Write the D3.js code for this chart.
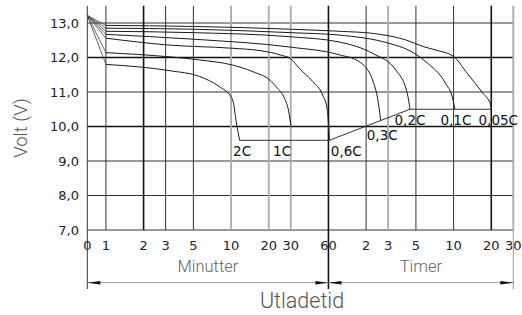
<!DOCTYPE html>
<html>
<head>
<meta charset="utf-8">
<script src="https://cdn.jsdelivr.net/npm/d3@7"></script>
<style>
  body { margin: 0; background: #fff; }
  svg { display: block; }
</style>
</head>
<body>
<svg width="522" height="315"></svg>
<script>
// time is in minutes, 0 = start of discharge
var minuteTicks = [0, 1, 2, 3, 5, 10, 20, 30, 60];
var hourTicks = [2, 3, 5, 10, 20, 30];
var voltTicks = [7, 8, 9, 10, 11, 12, 13];

var names = ["2C", "1C", "0,6C", "0,3C", "0,2C", "0,1C", "0,05C"];

// [minutes, volt]
var c2 = [[0, 13.22], [1, 11.80], [3.2, 11.62], [5.6, 11.45], [8.1, 11.15], [10, 10.86], [10.4, 10.72], [11, 10.14], [11.7, 9.6]];
var c1 = [[0, 13.22], [1, 12.14], [3.2, 12.02], [5.6, 11.93], [10.3, 11.78], [14.9, 11.59], [20.3, 11.35], [23.6, 11.1], [26.7, 10.82], [28.9, 10.43], [30.2, 9.97]];
var c06 = [[0, 13.22], [1, 12.56], [3.2, 12.36], [10, 12.27], [17, 12.2], [25, 12.07], [30, 11.96], [35, 11.69], [45, 11.30], [54, 10.91], [58.4, 10.53], [60, 10.14], [61, 9.6]];
var c03 = [[0, 13.22], [1, 12.67], [5, 12.53], [30, 12.3], [73, 12.08], [105.6, 11.88], [135, 11.35], [152, 10.57], [157, 10.17]];
var c02 = [[0, 13.22], [1, 12.76], [5, 12.72], [30, 12.6], [73, 12.45], [135, 12.12], [207, 11.64], [256, 10.96], [269, 10.5]];
var c01 = [[0, 13.22], [1, 12.85], [5, 12.82], [30, 12.72], [73, 12.65], [183, 12.41], [270, 12.19], [359, 11.88], [518, 11.25], [585, 10.86], [615, 10.5]];
var c005 = [[0, 13.22], [1, 12.93], [5, 12.9], [30, 12.82], [73, 12.76], [135, 12.70], [249, 12.51], [348, 12.31], [450, 12.2], [604, 12.02], [771, 11.54], [1010, 11.0], [1190, 10.62], [1200, 10.5]];
var series = [c2, c1, c06, c03, c02, c01, c005];

// end-of-discharge voltage line
var endLine = [[11.7, 9.6], [61, 9.6], [269, 10.5], [1200, 10.5]];

var svg = d3.select("svg");

var T0 = 0.71; // where "0" sits on the log axis
var x = d3.scaleLog().domain([T0, 1800]).range([87.3, 513.3]);
var y = d3.scaleLinear().domain([7, 13.5]).range([230, 5.75]);
function tx(t) { return x(t === 0 ? T0 : t); }

var allTimes = minuteTicks.concat(hourTicks.map(function (h) { return h * 60; }));

function vStyle(t) {
    if (t === 2 || t === 60 || t === 1200) return { c: "#111", w: 1.6 };
    if (t === 10 || t === 20 || t === 30 || t === 180 || t === 1800) return { c: "#aaa", w: 1.8 };
    return { c: "#333", w: 1 };
}

// grid
var grid = svg.append("g").attr("class", "grid");
grid.selectAll("line.h")
    .data(voltTicks)
    .enter().append("line")
    .attr("x1", x(T0)).attr("x2", x(1800))
    .attr("y1", function (d) { return y(d); })
    .attr("y2", function (d) { return y(d); })
    .attr("stroke", function (d) { return (d === 10 || d === 12) ? "#111" : "#333"; })
    .attr("stroke-width", function (d) { return (d === 10 || d === 12) ? 1.6 : 1; });

grid.selectAll("line.v")
    .data(allTimes)
    .enter().append("line")
    .attr("x1", function (d) { return tx(d); })
    .attr("x2", function (d) { return tx(d); })
    .attr("y1", y(13.5))
    .attr("y2", y(7))
    .attr("stroke", function (d) { return vStyle(d).c; })
    .attr("stroke-width", function (d) { return vStyle(d).w; });

// extension lines below the axis
[[0, "#333"], [60, "#111"], [1800, "#999"]].forEach(function (e) {
    svg.append("line")
        .attr("x1", tx(e[0])).attr("x2", tx(e[0]))
        .attr("y1", y(7)).attr("y2", 289)
        .attr("stroke", e[1])
        .attr("stroke-width", e[0] === 60 ? 1.6 : 1);
});

// curves
var startLine = d3.line()
    .x(function (d) { return tx(d[0]); })
    .y(function (d) { return y(d[1]); });
var curve = d3.line()
    .x(function (d) { return tx(d[0]); })
    .y(function (d) { return y(d[1]); })
    .curve(d3.curveMonotoneX);

var curves = svg.append("g").attr("fill", "none").attr("stroke", "#1a1a1a").attr("stroke-width", 1);
series.forEach(function (s) {
    curves.append("path").attr("d", startLine(s.slice(0, 2))).attr("stroke", "#444").attr("stroke-width", 0.8);
    curves.append("path").attr("d", curve(s.slice(1)));
});
curves.append("path").attr("d", startLine(endLine)).attr("stroke", "#333");

// curve labels
var labelPos = [
    { dx: 2.5, dy: null, anchor: "middle" },
    { dx: 0, dy: null, anchor: "end" },
    { dx: 1.5, dy: null, anchor: "start" },
    { dx: 1.5, dy: 19, anchor: "middle" },
    { dx: 0, dy: 16, anchor: "middle" },
    { dx: 1, dy: 16, anchor: "middle" },
    { dx: 7, dy: 16, anchor: "middle" }
];
svg.append("g")
    .attr("font-family", "DejaVu Sans, sans-serif")
    .attr("font-size", 13.5)
    .attr("fill", "#111")
    .selectAll("text")
    .data(series)
    .enter().append("text")
    .attr("x", function (d, i) { return tx(d[d.length - 1][0]) + labelPos[i].dx; })
    .attr("y", function (d, i) {
        var p = labelPos[i];
        return p.dy === null ? y(9.6) + 16 : y(d[d.length - 1][1]) + p.dy;
    })
    .attr("text-anchor", function (d, i) { return labelPos[i].anchor; })
    .text(function (d, i) { return names[i]; });

// y tick labels
svg.append("g")
    .attr("font-family", "DejaVu Sans, sans-serif")
    .attr("font-size", 13)
    .attr("fill", "#222")
    .attr("text-anchor", "end")
    .selectAll("text")
    .data(voltTicks)
    .enter().append("text")
    .attr("x", 79)
    .attr("y", function (d) { return y(d); })
    .attr("dy", "0.36em")
    .text(function (d) { return d3.format(".1f")(d).replace(".", ","); });

// x tick labels
var xl = svg.append("g")
    .attr("font-family", "DejaVu Sans, sans-serif")
    .attr("font-size", 13)
    .attr("fill", "#222")
    .attr("text-anchor", "middle");
xl.selectAll("text.m")
    .data(minuteTicks)
    .enter().append("text")
    .attr("x", function (d) { return tx(d); })
    .attr("y", 249.5)
    .text(function (d) { return d; });
xl.selectAll("text.h")
    .data(hourTicks)
    .enter().append("text")
    .attr("x", function (d) { return tx(d * 60); })
    .attr("y", 249.5)
    .text(function (d) { return d; });

// dimension lines with arrows
var dimY = 282.7;
function dimension(t1, t2) {
    var a = tx(t1), b = tx(t2);
    svg.append("line")
        .attr("x1", a).attr("x2", b)
        .attr("y1", dimY).attr("y2", dimY)
        .attr("stroke", "#999").attr("stroke-width", 1);
    svg.append("path")
        .attr("d", "M" + a + "," + dimY + "L" + (a + 13) + "," + (dimY - 1.8) + "L" + (a + 13) + "," + (dimY + 1.8) + "Z")
        .attr("fill", "#111");
    svg.append("path")
        .attr("d", "M" + b + "," + dimY + "L" + (b - 13) + "," + (dimY - 1.8) + "L" + (b - 13) + "," + (dimY + 1.8) + "Z")
        .attr("fill", "#111");
}
dimension(0, 60);
dimension(60, 1800);

// titles
svg.append("text")
    .attr("x", (tx(0) + tx(60)) / 2).attr("y", 271.5)
    .attr("text-anchor", "middle")
    .attr("font-family", "Roboto, sans-serif").attr("font-weight", 300)
    .attr("font-size", 16.5).attr("fill", "#666")
    .text("Minutter");
svg.append("text")
    .attr("x", (tx(60) + tx(1800)) / 2).attr("y", 271.5)
    .attr("text-anchor", "middle")
    .attr("font-family", "Roboto, sans-serif").attr("font-weight", 300)
    .attr("font-size", 16.5).attr("fill", "#666")
    .text("Timer");
svg.append("text")
    .attr("x", 302).attr("y", 307.5)
    .attr("text-anchor", "middle")
    .attr("font-family", "Roboto, sans-serif").attr("font-weight", 300)
    .attr("font-size", 21.5).attr("fill", "#555")
    .text("Utladetid");
svg.append("text")
    .attr("transform", "translate(27,128) rotate(-90)")
    .attr("text-anchor", "middle")
    .attr("font-family", "Roboto, sans-serif").attr("font-weight", 300)
    .attr("font-size", 18.5).attr("fill", "#555")
    .text("Volt (V)");
</script>
</body>
</html>
